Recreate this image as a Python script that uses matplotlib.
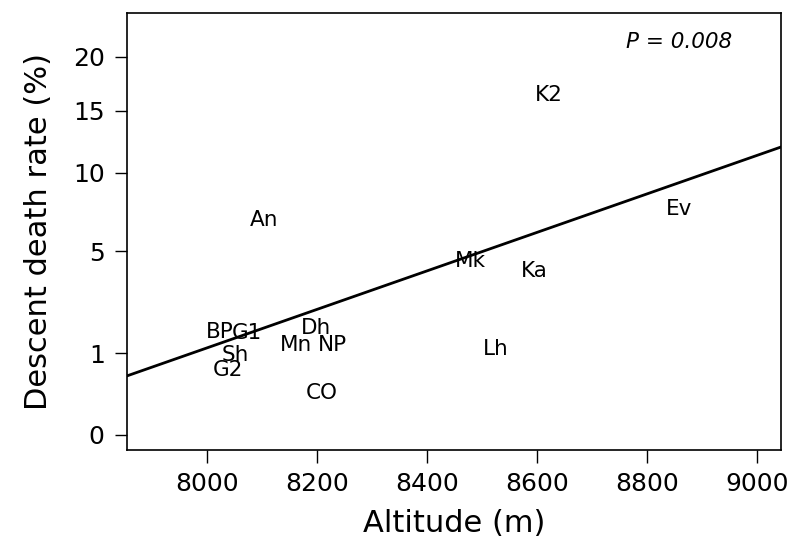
import numpy as np
import matplotlib
matplotlib.use("Agg")
import matplotlib.pyplot as plt

# peaks: label, altitude (m), descent death rate (%)
peaks = ["K2", "Ev", "An", "Mk", "Ka", "Lh", "BP", "G1", "Dh", "Mn", "NP", "Sh", "G2", "CO"]
altitude = [8622, 8858, 8105, 8479, 8595, 8526, 8024, 8074, 8198, 8163, 8229, 8053, 8038, 8209]
death_rate = [16.4, 7.5, 6.8, 4.5, 4.0, 1.1, 1.6, 1.55, 1.7, 1.2, 1.2, 0.96, 0.63, 0.27]

# fitted line on arcsine-sqrt scale
fit_intercept_8000 = 0.1066
fit_slope = 2.362e-4

y_ticks = [0, 1, 5, 10, 15, 20]
x_ticks = [8000, 8200, 8400, 8600, 8800, 9000]


def asr(p):
    return np.arcsin(np.sqrt(np.asarray(p) / 100.0))


plt.rcParams['font.family'] = ['DejaVu Sans']

fig = plt.figure(figsize=(8.03, 5.48), dpi=100)
ax = fig.add_axes([0.158, 0.179, 0.8146, 0.7973])

for lab, x, y in zip(peaks, altitude, death_rate):
    ax.text(x, asr(y), lab, ha='center', va='center', fontsize=15.5)

xl = np.array([7855, 9044])
ax.plot(xl, fit_intercept_8000 + fit_slope * (xl - 8000), color='black', lw=2)

ax.text(8858, asr(21.5), "P = 0.008", style='italic', fontsize=15.5, ha='center', va='center')

ax.set_xlim(7855, 9044)
ax.set_ylim(-0.0184, 0.5176)
ax.set_xticks(x_ticks)
ax.set_yticks(asr(y_ticks))
ax.set_yticklabels([str(t) for t in y_ticks])
ax.tick_params(direction='out', length=9, width=1, labelsize=18, pad=7)
for s in ax.spines.values():
    s.set_linewidth(1.2)

ax.set_xlabel("Altitude (m)", fontsize=22, labelpad=9)
ax.set_ylabel("Descent death rate (%)", fontsize=22, labelpad=14)

fig.savefig("out.png", dpi=100)
